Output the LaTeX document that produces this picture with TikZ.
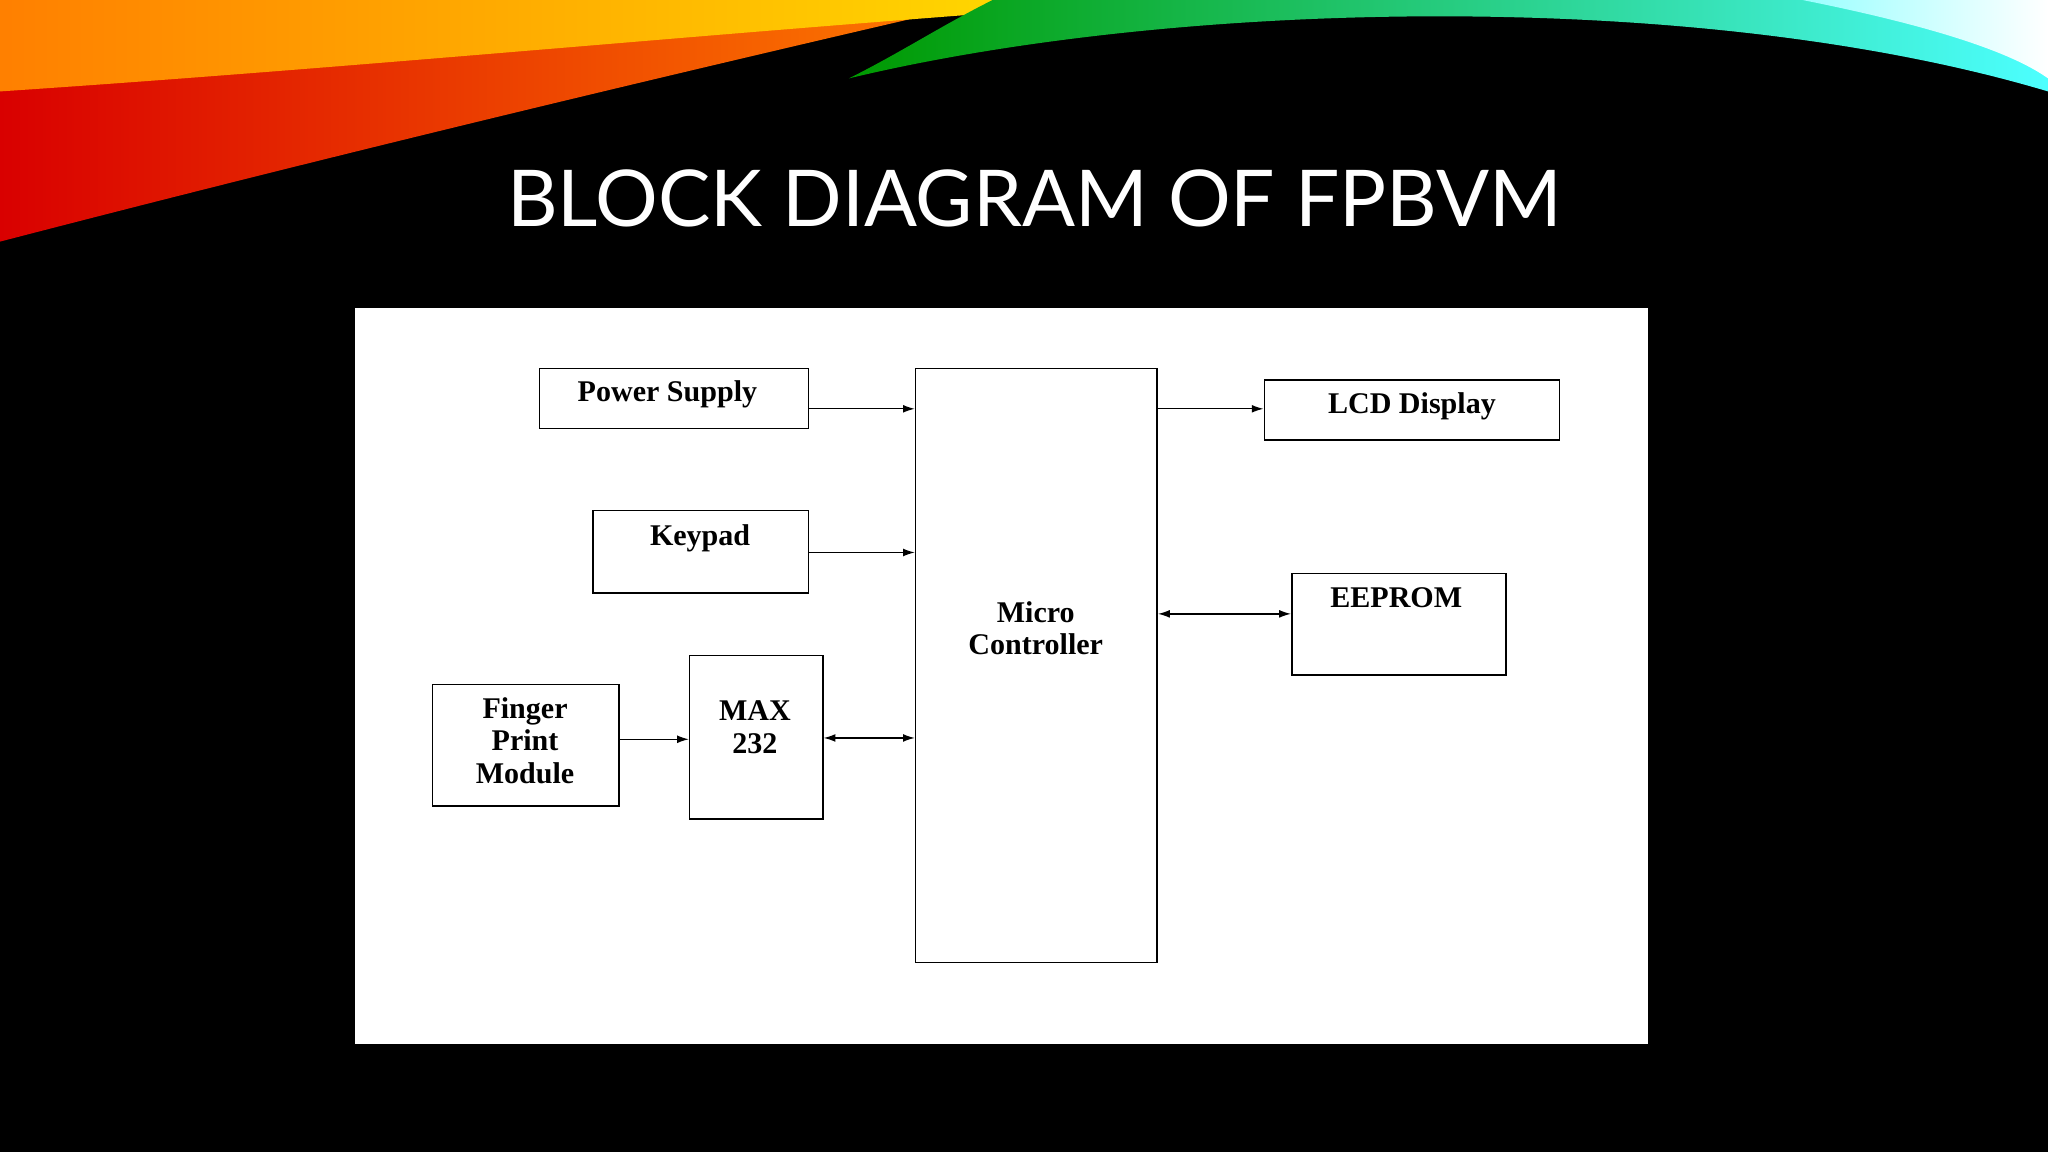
\documentclass[tikz,border=0pt]{standalone}
\usepackage{fontspec}
\setmainfont{Liberation Serif}
\newfontfamily\titlefont{Lato}
\usetikzlibrary{arrows.meta}
\begin{document}
\begin{tikzpicture}[x=1pt,y=-1pt,
  blk/.style={draw=black,line width=1.2pt,fill=white,inner sep=0pt},
  lbl/.style={font=\fontsize{23}{25}\selectfont\bfseries,align=center,text=black},
  arr/.style={line width=1pt,-{Latex[length=9pt,width=6pt]}},
  barr/.style={line width=1pt,{Latex[length=9pt,width=6pt]}-{Latex[length=9pt,width=6pt]}}]
\useasboundingbox (0,0) rectangle (1568,882);
\fill[black] (0,0) rectangle (1568,882);
% swoosh
\shade[left color=red!85!black,right color=orange] (0,0) -- (760,0) .. controls (500,60) and (250,120) .. (0,185) -- cycle;
\shade[left color=orange,right color=yellow!80!orange] (0,0) -- (900,0) .. controls (600,20) and (300,50) .. (0,70) -- cycle;
\shade[left color=green!60!black,right color=cyan!70] (650,60) .. controls (900,0) and (1300,-10) .. (1568,70) -- (1568,0) -- (760,0) .. controls (720,20) and (690,40) .. (650,60) -- cycle;
\shade[left color=cyan!40,right color=white] (1380,0) .. controls (1480,20) and (1540,40) .. (1568,60) -- (1568,0) -- cycle;
\node[text=white,font=\titlefont\fontsize{60}{70}\selectfont] (title) at (792,152) {BLOCK DIAGRAM OF FPBVM};
\fill[white] (272,236) rectangle (1262,799);
% boxes
\node[blk,minimum width=206pt,minimum height=46pt] (ps) at (516,305) {};
\node[lbl,anchor=north] at (511,288) {Power Supply};
\node[blk,minimum width=165pt,minimum height=63pt] (kp) at (536.5,422.5) {};
\node[lbl,anchor=north] at (536,398) {Keypad};
\node[blk,minimum width=143pt,minimum height=93pt] (fp) at (402.5,570.5) {};
\node[lbl] at (402,567) {Finger\\Print\\Module};
\node[blk,minimum width=102pt,minimum height=125pt] (max) at (579,564.5) {};
\node[lbl] at (578,557) {MAX\\232};
\node[blk,minimum width=185pt,minimum height=455pt] (mc) at (793.5,509.5) {};
\node[lbl] at (793,481) {Micro\\Controller};
\node[blk,minimum width=226pt,minimum height=46pt] (lcd) at (1081,314) {};
\node[lbl] at (1081,311) {LCD Display};
\node[blk,minimum width=164pt,minimum height=78pt] (ee) at (1071,478) {};
\node[lbl,anchor=north] at (1069,446) {EEPROM};
% arrows
\draw[arr] (ps.east |- 0,313) -- (mc.west |- 0,313);
\draw[arr] (kp.east |- 0,423) -- (mc.west |- 0,423);
\draw[arr] (fp.east |- 0,566) -- (max.west |- 0,566);
\draw[barr] (max.east |- 0,565) -- (mc.west |- 0,565);
\draw[arr] (mc.east |- 0,313) -- (lcd.west |- 0,313);
\draw[barr] (mc.east |- 0,470) -- (ee.west |- 0,470);
\end{tikzpicture}
\end{document}
